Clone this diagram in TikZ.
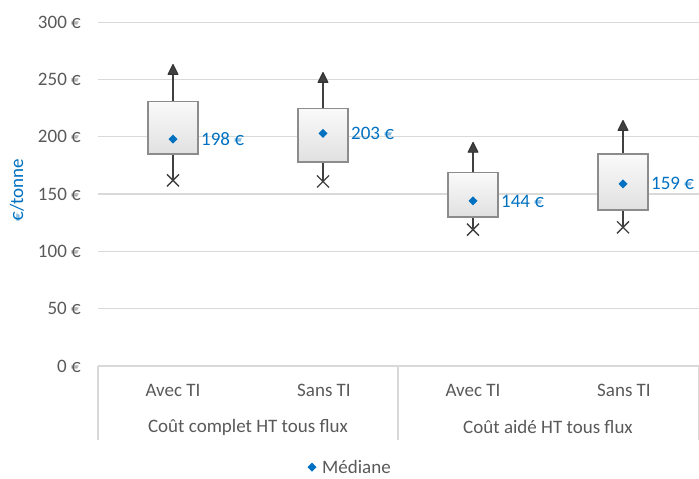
\documentclass[tikz,border=0pt]{standalone}
\usepackage{fontspec}
\setmainfont{Carlito}
\usetikzlibrary{calc}
\definecolor{gridgray}{HTML}{D9D9D9}
\definecolor{textgray}{HTML}{595959}
\definecolor{xlblue}{HTML}{0070C0}
\definecolor{boxedge}{HTML}{8C8C8C}
\definecolor{markgray}{HTML}{404040}
\tikzset{grid line/.style={draw=gridgray, line width=1.3pt},
     tick label/.style={left, text=textgray, inner sep=0pt},
     cat label/.style={text=textgray, inner sep=0pt},
     median label/.style={right, text=xlblue, inner sep=0pt},
     box edge/.style={draw=boxedge, line width=1.3pt, top color=gray!4, bottom color=gray!24},
     whisker/.style={draw=markgray, line width=1.3pt},
     high mark/.style={fill=markgray, draw=black!80, line width=0.9pt, line join=round},
     low mark/.style={draw=markgray, line width=1.3pt},
     median mark/.style={fill=xlblue}
     }
\def\Diamond#1{%
 \fill[median mark] (#1) ++(0,4.5pt) -- ++(4.5pt,-4.5pt) -- ++(-4.5pt,-4.5pt) -- ++(-4.5pt,4.5pt) -- cycle;
}
\def\PriceBox#1#2#3#4#5#6#7{%
 \coordinate (#1-low) at (#2,#3);
 \coordinate (#1-bot) at (#2,#4);
 \coordinate (#1-med) at (#2,#5);
 \coordinate (#1-top) at (#2,#6);
 \coordinate (#1-high) at (#2,#7);
 \draw[whisker] (#1-bot) -- (#1-low);
 \draw[whisker] (#1-top) -- (#1-high);
 \draw[box edge] ($(#1-bot)+(-25pt,0)$) rectangle ($(#1-top)+(25pt,0)$);
 \filldraw[high mark] (#1-high) ++(-5pt,-4pt) -- ++(10pt,0) -- ++(-5pt,10pt) -- cycle;
 \draw[low mark] (#1-low) ++(-6pt,-6pt) -- ++(12pt,12pt) (#1-low) ++(-6pt,6pt) -- ++(12pt,-12pt);
 \Diamond{#1-med}
 \node[median label] (#1-lab) at ($(#1-med)+(28pt,0)$) {#5~€};
}

\begin{document}
\begin{tikzpicture}[x=1pt, y=-1pt, font=\fontsize{19}{22}\selectfont]
\useasboundingbox (0,0) rectangle (699,479);
% value axis, 50 per step
\begin{scope}[shift={(0,366)}, y=1.146pt]
  \foreach \v in {0,50,...,300} {
    \draw[grid line] (98,\v) -- (699,\v);
    \node[tick label] (tick\v) at (81,\v) {\v\ €};
  }
  \PriceBox{cca}{173}{162}{185}{198}{231}{258}
  \PriceBox{ccs}{323}{161}{178}{203}{225}{251}
  \PriceBox{caa}{473}{119}{130}{144}{169}{190}
  \PriceBox{cas}{623}{121}{136}{159}{185}{209}
\end{scope}
\node[text=xlblue, rotate=90, inner sep=0pt] (ytitle) at (17,190) {€/tonne};
% category axis
\foreach \x in {98,398,699}
  \draw[grid line] (\x,366) -- (\x,440);
\node[cat label] (c1) at (173,390) {Avec TI};
\node[cat label] (c2) at (324,390) {Sans TI};
\node[cat label] (c3) at (473,390) {Avec TI};
\node[cat label] (c4) at (624,390) {Sans TI};
\node[cat label] (g1) at (248,427) {Coût complet HT tous flux};
\node[cat label] (g2) at (548,427) {Coût aidé HT tous flux};
% legend
\coordinate (legmark) at (312,467);
\Diamond{legmark}
\node[cat label, right] (legend) at (322,467) {Médiane};
\end{tikzpicture}
\end{document}
